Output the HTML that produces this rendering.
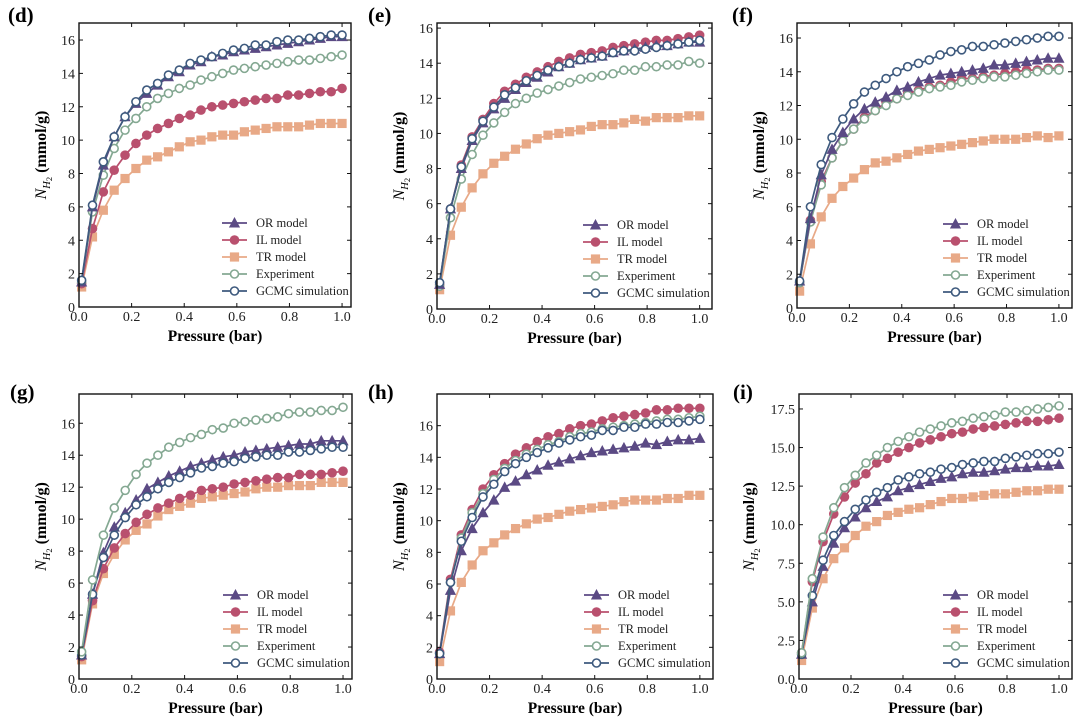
<!DOCTYPE html>
<html><head><meta charset="utf-8"><style>
body{margin:0;background:#fff;}
svg{display:block;font-family:"Liberation Serif",serif;}
</style></head><body>
<svg id="fig" width="1080" height="725" viewBox="0 0 1080 725" xmlns="http://www.w3.org/2000/svg"></svg>
<script>
const pressures = [];
for (let i = 0; i < 25; i++) pressures.push(+(0.01 + i * 0.99 / 24).toFixed(4));
const seriesNames = ["OR model","IL model","TR model","Experiment","GCMC simulation"];
const panelLabels = ["(d)","(e)","(f)","(g)","(h)","(i)"];

const d_OR  = [1.5,6.0,8.5,10.2,11.4,12.2,12.8,13.3,13.8,14.1,14.5,14.7,15.0,15.1,15.3,15.4,15.5,15.6,15.7,15.8,15.9,16.0,16.1,16.2,16.2];
const d_IL  = [1.4,4.7,6.9,8.2,9.1,9.8,10.3,10.7,11.0,11.3,11.5,11.8,12.0,12.1,12.2,12.3,12.4,12.5,12.5,12.7,12.7,12.8,12.9,12.9,13.1];
const d_TR  = [1.2,4.2,5.8,7.0,7.7,8.3,8.8,9.0,9.3,9.6,9.9,10.0,10.2,10.3,10.3,10.5,10.6,10.7,10.8,10.8,10.8,10.9,11.0,11.0,11.0];
const d_EXP = [1.5,5.7,7.9,9.5,10.6,11.3,12.0,12.5,12.8,13.1,13.3,13.6,13.8,14.0,14.2,14.3,14.4,14.5,14.6,14.7,14.8,14.8,14.9,15.0,15.1];
const d_GC  = [1.6,6.1,8.7,10.2,11.4,12.3,13.0,13.4,13.9,14.2,14.6,14.8,15.0,15.2,15.4,15.5,15.7,15.7,15.9,16.0,16.0,16.1,16.2,16.3,16.3];

const e_OR  = [1.4,5.7,8.0,9.6,10.6,11.4,12.0,12.5,12.9,13.2,13.5,13.8,14.0,14.2,14.3,14.4,14.6,14.7,14.8,14.9,15.0,15.0,15.1,15.2,15.2];
const e_IL  = [1.4,5.7,8.2,9.8,10.8,11.7,12.4,12.8,13.2,13.5,13.8,14.1,14.3,14.5,14.6,14.7,14.9,15.0,15.1,15.2,15.3,15.3,15.4,15.5,15.6];
const e_TR  = [1.1,4.2,5.8,6.9,7.7,8.3,8.7,9.1,9.4,9.7,9.9,10.0,10.1,10.2,10.4,10.5,10.5,10.6,10.8,10.7,10.9,10.9,10.9,11.0,11.0];
const e_EXP = [1.3,5.2,7.4,8.8,9.9,10.6,11.2,11.7,12.0,12.3,12.5,12.7,12.9,13.1,13.2,13.3,13.4,13.6,13.6,13.8,13.8,13.9,13.9,14.1,14.0];
const e_GC  = [1.5,5.7,8.1,9.7,10.7,11.5,12.2,12.6,13.0,13.3,13.6,13.8,14.0,14.2,14.3,14.4,14.6,14.7,14.7,14.8,14.9,15.0,15.1,15.2,15.3];

const f_OR  = [1.6,5.3,7.9,9.4,10.4,11.2,11.8,12.2,12.5,12.9,13.1,13.4,13.6,13.8,13.9,14.0,14.1,14.2,14.4,14.4,14.5,14.6,14.7,14.8,14.8];
const f_IL  = [1.5,5.2,7.5,8.9,9.9,10.6,11.3,11.7,12.2,12.4,12.7,12.9,13.1,13.2,13.4,13.6,13.6,13.7,13.8,13.9,14.0,14.1,14.1,14.2,14.2];
const f_TR  = [1.0,3.8,5.4,6.5,7.2,7.7,8.2,8.6,8.7,8.9,9.1,9.3,9.4,9.5,9.6,9.7,9.8,9.9,10.0,10.0,10.0,10.1,10.2,10.1,10.2];
const f_EXP = [1.5,5.1,7.3,8.9,9.9,10.6,11.2,11.7,12.0,12.4,12.6,12.8,13.0,13.1,13.2,13.4,13.5,13.6,13.7,13.7,13.8,13.9,14.0,14.1,14.1];
const f_GC  = [1.6,6.0,8.5,10.1,11.2,12.1,12.8,13.2,13.6,14.0,14.3,14.5,14.7,15.0,15.2,15.3,15.5,15.5,15.6,15.7,15.8,15.9,16.0,16.1,16.1];

const g_OR  = [1.5,5.3,7.9,9.5,10.4,11.2,11.9,12.3,12.7,13.0,13.3,13.5,13.7,13.9,14.0,14.2,14.3,14.4,14.5,14.6,14.7,14.7,14.9,14.9,14.9];
const g_IL  = [1.4,4.9,6.9,8.2,9.1,9.8,10.3,10.7,11.0,11.3,11.5,11.8,11.9,12.0,12.2,12.3,12.4,12.5,12.6,12.6,12.8,12.8,12.8,12.9,13.0];
const g_TR  = [1.2,4.7,6.6,7.8,8.7,9.3,9.7,10.2,10.6,10.8,11.0,11.3,11.4,11.5,11.6,11.7,11.9,12.0,12.0,12.1,12.1,12.1,12.3,12.3,12.3];
const g_EXP = [1.7,6.2,9.0,10.7,11.8,12.8,13.5,14.0,14.5,14.8,15.1,15.3,15.6,15.7,16.0,16.1,16.2,16.3,16.4,16.6,16.7,16.7,16.8,16.8,17.0];
const g_GC  = [1.5,5.3,7.6,9.0,10.1,10.9,11.4,11.9,12.3,12.6,12.9,13.2,13.3,13.5,13.6,13.8,13.9,14.0,14.0,14.2,14.2,14.3,14.4,14.5,14.5];

const h_OR  = [1.6,5.6,8.1,9.5,10.5,11.3,12.1,12.5,12.9,13.2,13.5,13.7,13.9,14.1,14.3,14.4,14.5,14.6,14.7,14.9,14.8,15.0,15.1,15.1,15.2];
const h_IL  = [1.7,6.3,9.1,10.7,12.0,12.9,13.6,14.2,14.6,15.0,15.3,15.5,15.8,16.0,16.1,16.3,16.5,16.6,16.7,16.8,17.0,17.0,17.1,17.1,17.1];
const h_TR  = [1.1,4.3,6.1,7.2,8.1,8.6,9.1,9.5,9.8,10.1,10.2,10.4,10.6,10.7,10.8,10.9,11.0,11.2,11.3,11.3,11.3,11.4,11.4,11.6,11.6];
const h_EXP = [1.6,6.1,8.9,10.5,11.7,12.6,13.3,13.8,14.2,14.5,14.8,15.0,15.3,15.5,15.6,15.8,15.9,16.0,16.1,16.2,16.3,16.4,16.4,16.5,16.6];
const h_GC  = [1.6,6.1,8.7,10.2,11.5,12.3,13.1,13.6,14.0,14.3,14.6,14.9,15.1,15.3,15.4,15.7,15.7,15.9,15.9,16.1,16.1,16.2,16.2,16.3,16.4];

const i_OR  = [1.6,5.0,7.3,8.8,9.8,10.5,11.1,11.5,11.8,12.2,12.4,12.6,12.8,13.0,13.1,13.3,13.4,13.4,13.5,13.6,13.7,13.7,13.8,13.8,13.9];
const i_IL  = [1.7,6.3,8.9,10.7,11.8,12.7,13.3,14.0,14.3,14.7,15.0,15.3,15.5,15.7,15.9,16.0,16.2,16.3,16.4,16.5,16.6,16.7,16.7,16.8,16.9];
const i_TR  = [1.2,4.6,6.5,7.8,8.5,9.3,9.9,10.2,10.6,10.8,11.0,11.1,11.3,11.5,11.7,11.7,11.8,11.9,12.0,12.0,12.1,12.2,12.2,12.3,12.3];
const i_EXP = [1.7,6.5,9.2,11.1,12.4,13.2,14.0,14.5,15.0,15.4,15.7,16.0,16.2,16.4,16.6,16.7,16.9,17.0,17.1,17.3,17.3,17.4,17.5,17.6,17.7];
const i_GC  = [1.6,5.4,7.7,9.3,10.2,11.0,11.6,12.1,12.4,12.9,13.1,13.3,13.4,13.6,13.7,13.9,14.0,14.1,14.1,14.3,14.4,14.5,14.6,14.6,14.7];

const xTickLabels = ["0.0","0.2","0.4","0.6","0.8","1.0"];
const yTicksInt = [0,2,4,6,8,10,12,14,16];
const yTicksHalf = [0,2.5,5,7.5,10,12.5,15,17.5];

const panelData = [
  [d_OR,d_IL,d_TR,d_EXP,d_GC],[e_OR,e_IL,e_TR,e_EXP,e_GC],[f_OR,f_IL,f_TR,f_EXP,f_GC],
  [g_OR,g_IL,g_TR,g_EXP,g_GC],[h_OR,h_IL,h_TR,h_EXP,h_GC],[i_OR,i_IL,i_TR,i_EXP,i_GC]
];
const ymaxes = [17.02,16.29,16.89,17.83,18.0,18.47];
const xmaxes = [1.034,1.047,1.05,1.034,1.05,1.05];

const layout = [
  {L:79,R:351,T:23,B:307,lx:8,ly:15},
  {L:437,R:712,T:23,B:309,lx:368,ly:15},
  {L:797,R:1072,T:23,B:308,lx:732,ly:15},
  {L:79,R:352,T:394,B:679,lx:10,ly:392},
  {L:437,R:713,T:394,B:679,lx:368,ly:392},
  {L:799,R:1072,T:394,B:679,lx:733,ly:392}
];
const colors = ["#5b4a84","#b9506e","#e8a987","#84a892","#3e5a7e"];
const NS = "http://www.w3.org/2000/svg";
const svg = document.getElementById("fig");
function mk(tag, attrs, parent){const e=document.createElementNS(NS,tag);for(const k in attrs)e.setAttribute(k,attrs[k]);(parent||svg).appendChild(e);return e;}

function marker(g, k, x, y, r){
  let m;
  if(k===0){ m=mk("polygon",{points:`${x},${y-r-1.2} ${x-r-0.8},${y+r-0.3} ${x+r+0.8},${y+r-0.3}`,fill:colors[0]},g); }
  else if(k===1){ m=mk("circle",{cx:x,cy:y,r:r,fill:colors[1]},g); }
  else if(k===2){ m=mk("rect",{x:x-r+0.2,y:y-r+0.2,width:2*r-0.4,height:2*r-0.4,fill:colors[2]},g); }
  else { m=mk("circle",{cx:x,cy:y,r:r-0.8,fill:"#fff",stroke:colors[k],"stroke-width":1.6},g); }
  return m;
}

panelData.forEach((series, p) => {
  const lo = layout[p];
  const ymax = ymaxes[p], xmax = xmaxes[p];
  const xs = v => lo.L + v/xmax*(lo.R-lo.L);
  const ys = v => lo.B - v/ymax*(lo.B-lo.T);
  const g = mk("g",{});
  
  
  const lab = mk("text",{x:lo.lx,y:lo.ly+7,"font-size":21,"font-weight":"bold"},g);
  lab.textContent = panelLabels[p];
  
  
  const order = p===3||p===5 ? [2,1,0,4,3] : [2,1,3,0,4];
  order.forEach(k=>{
    const sg = mk("g",{},g);
    
    
    const pts = series[k].map((v,i)=>xs(pressures[i]).toFixed(1)+","+ys(v).toFixed(1)).join(" ");
    mk("polyline",{points:pts,fill:"none",stroke:colors[k],"stroke-width":1.7},sg);
    series[k].forEach((v,i)=>{
      const m = marker(sg,k,xs(pressures[i]),ys(v),4.8);
      
      
    });
  });
  const fr = mk("rect",{x:lo.L,y:lo.T,width:lo.R-lo.L,height:lo.B-lo.T,fill:"none",stroke:"#111","stroke-width":1.4},g);
  
  
  xTickLabels.forEach(t=>{
    const x = xs(parseFloat(t));
    mk("line",{x1:x,x2:x,y1:lo.B,y2:lo.B-4,stroke:"#111","stroke-width":1},g);
    mk("line",{x1:x,x2:x,y1:lo.T,y2:lo.T+4,stroke:"#111","stroke-width":1},g);
    const tl = mk("text",{x:x,y:lo.B+14,"font-size":14,"text-anchor":"middle",fill:"#222"},g);
    tl.textContent = t;
    
    
  });
  const yt = p===5 ? yTicksHalf : yTicksInt;
  yt.forEach(v=>{
    const y = ys(v);
    mk("line",{x1:lo.L,x2:lo.L+4,y1:y,y2:y,stroke:"#111","stroke-width":1},g);
    mk("line",{x1:lo.R,x2:lo.R-4,y1:y,y2:y,stroke:"#111","stroke-width":1},g);
    const tl = mk("text",{x:lo.L-4,y:y+5,"font-size":14,"text-anchor":"end",fill:"#222"},g);
    tl.textContent = p===5 ? v.toFixed(1) : String(v);
    
    
  });
  const xt = mk("text",{x:(lo.L+lo.R)/2,y:lo.B+34,"font-size":15.5,"font-weight":"bold","text-anchor":"middle"},g);
  xt.textContent = "Pressure (bar)";
  
  
  const tx = lo.L - (p===5?45:33), ty = (lo.T+lo.B)/2 - 10;
  const yTitle = mk("text",{transform:`translate(${tx},${ty}) rotate(-90)`,"font-size":16,"text-anchor":"middle"},g);
  yTitle.innerHTML = '<tspan font-style="italic">N</tspan><tspan font-style="italic" font-size="10.5" dy="4">H</tspan><tspan font-size="8.5" dy="2">2</tspan><tspan dy="-6" font-weight="bold"> (mmol/g)</tspan>';
  
  
  const lg = mk("g",{},g);
  
  
  const lx = lo.R - 129, ly0 = lo.B - 84;
  [0,1,2,3,4].forEach(k=>{
    const y = ly0 + k*17;
    const eg = mk("g",{},lg);
    
    
    mk("line",{x1:lx,x2:lx+25,y1:y,y2:y,stroke:colors[k],"stroke-width":1.7},eg);
    marker(eg,k,lx+12.5,y,4.8);
    const t = mk("text",{x:lx+34,y:y+4,"font-size":12.5,fill:"#222"},eg);
    t.textContent = seriesNames[k];
  });
});
</script>
</body></html>
